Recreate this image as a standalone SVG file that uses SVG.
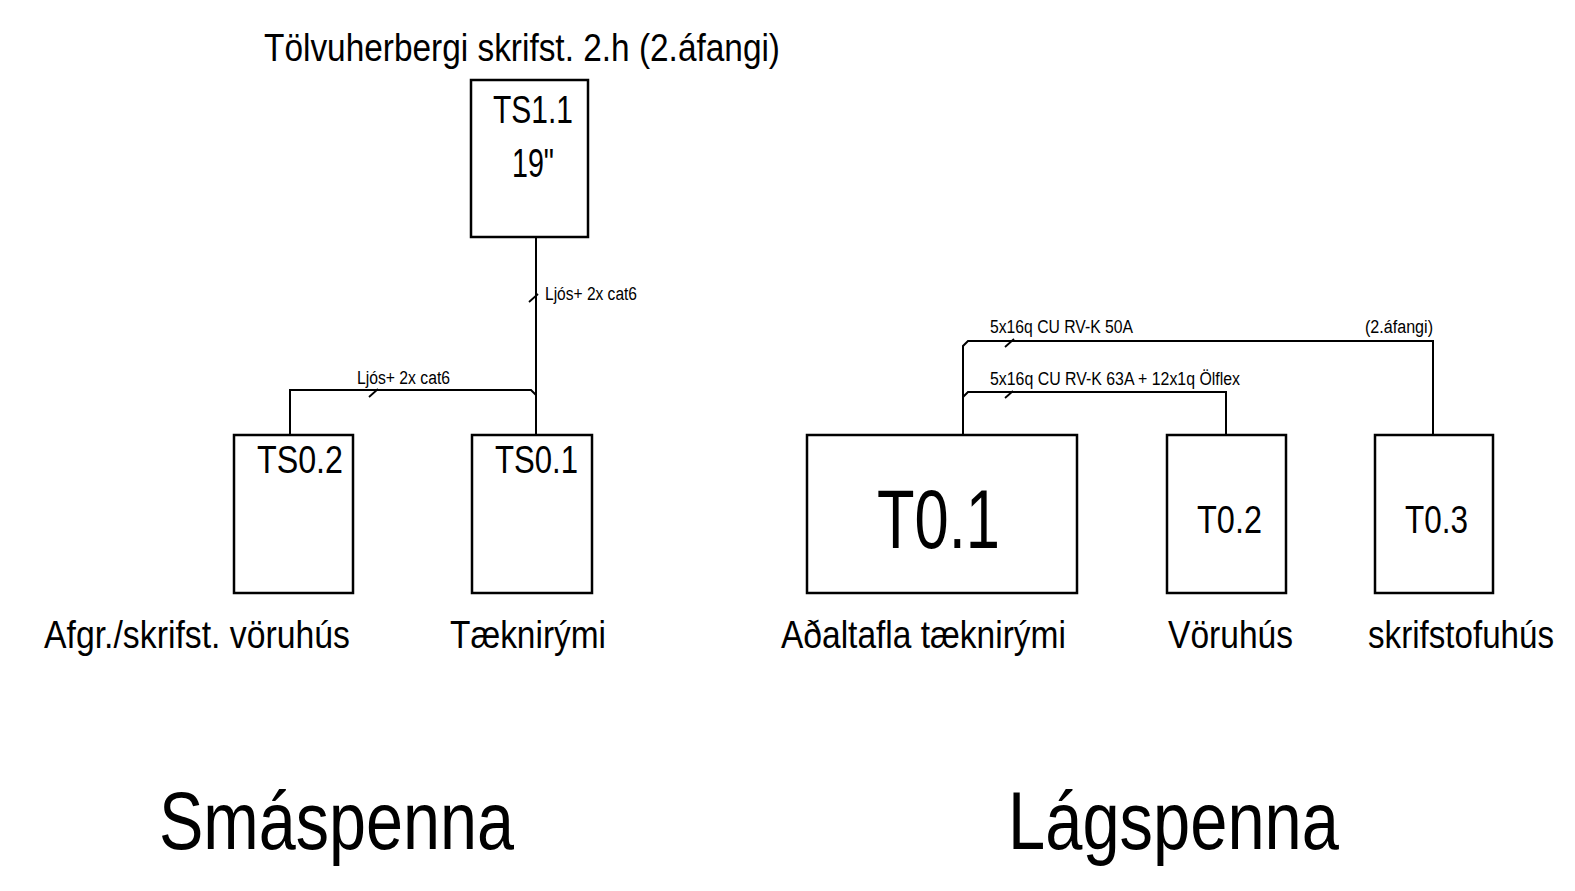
<svg xmlns="http://www.w3.org/2000/svg" width="1575" height="891" viewBox="0 0 1575 891">
<style>
.box{fill:#fff;stroke:#000;stroke-width:2.5}
.wire{fill:none;stroke:#000;stroke-width:2}
.tick{stroke:#000;stroke-width:1.8}
text{font-family:"Liberation Sans",Arial,sans-serif;fill:#000}
.m{font-size:38px}
.s{font-size:18px}
.xl{font-size:81px}
</style>
<rect width="1575" height="891" fill="#fff"/>
<g id="connectors">
<path class="wire" d="M536,237 V435"/>
<path class="wire" d="M290,435 V390 H531 L536,395"/>
<line class="tick" x1="529" y1="302" x2="538" y2="294"/>
<line class="tick" x1="369" y1="397" x2="378" y2="389"/>
<text class="s" x="545" y="300" textLength="92" lengthAdjust="spacingAndGlyphs">Ljós+ 2x cat6</text>
<text class="s" x="357" y="384" textLength="93" lengthAdjust="spacingAndGlyphs">Ljós+ 2x cat6</text>
<path class="wire" d="M963,435 V346 L968,341 H1433 V435"/>
<path class="wire" d="M963,397 L968,392 H1226 V435"/>
<line class="tick" x1="1005" y1="347" x2="1014" y2="339"/>
<line class="tick" x1="1005" y1="398" x2="1013" y2="391"/>
<text class="s" x="990" y="333" textLength="143" lengthAdjust="spacingAndGlyphs">5x16q CU RV-K 50A</text>
<text class="s" x="1365" y="333" textLength="68" lengthAdjust="spacingAndGlyphs">(2.áfangi)</text>
<text class="s" x="990" y="385" textLength="250" lengthAdjust="spacingAndGlyphs">5x16q CU RV-K 63A + 12x1q Ölflex</text>
</g>
<g id="TS1.1">
<text class="m" x="264" y="61" textLength="516" lengthAdjust="spacingAndGlyphs">Tölvuherbergi skrifst. 2.h (2.áfangi)</text>
<rect class="box" x="471" y="80" width="117" height="157"/>
<text class="m" x="493" y="123" textLength="80" lengthAdjust="spacingAndGlyphs">TS1.1</text>
<text x="512" y="177" font-size="41" textLength="42" lengthAdjust="spacingAndGlyphs">19"</text>
</g>
<g id="TS0.2">
<rect class="box" x="234" y="435" width="119" height="158"/>
<text class="m" x="257" y="473" textLength="86" lengthAdjust="spacingAndGlyphs">TS0.2</text>
<text class="m" x="44" y="648" textLength="306" lengthAdjust="spacingAndGlyphs">Afgr./skrifst. vöruhús</text>
</g>
<g id="TS0.1">
<rect class="box" x="472" y="435" width="120" height="158"/>
<text class="m" x="495" y="473" textLength="83" lengthAdjust="spacingAndGlyphs">TS0.1</text>
<text class="m" x="450" y="648" textLength="156" lengthAdjust="spacingAndGlyphs">Tæknirými</text>
</g>
<g id="T0.1">
<rect class="box" x="807" y="435" width="270" height="158"/>
<text x="877" y="548" font-size="83" textLength="123" lengthAdjust="spacingAndGlyphs">T0.1</text>
<text class="m" x="781" y="648" textLength="285" lengthAdjust="spacingAndGlyphs">Aðaltafla tæknirými</text>
</g>
<g id="T0.2">
<rect class="box" x="1167" y="435" width="119" height="158"/>
<text class="m" x="1197" y="533" textLength="65" lengthAdjust="spacingAndGlyphs">T0.2</text>
<text class="m" x="1168" y="648" textLength="125" lengthAdjust="spacingAndGlyphs">Vöruhús</text>
</g>
<g id="T0.3">
<rect class="box" x="1375" y="435" width="118" height="158"/>
<text class="m" x="1405" y="533" textLength="63" lengthAdjust="spacingAndGlyphs">T0.3</text>
<text class="m" x="1368" y="648" textLength="186" lengthAdjust="spacingAndGlyphs">skrifstofuhús</text>
</g>
<g id="titles">
<text class="xl" x="159" y="849" textLength="355" lengthAdjust="spacingAndGlyphs">Smáspenna</text>
<text class="xl" x="1008" y="849" textLength="331" lengthAdjust="spacingAndGlyphs">Lágspenna</text>
</g>
</svg>
